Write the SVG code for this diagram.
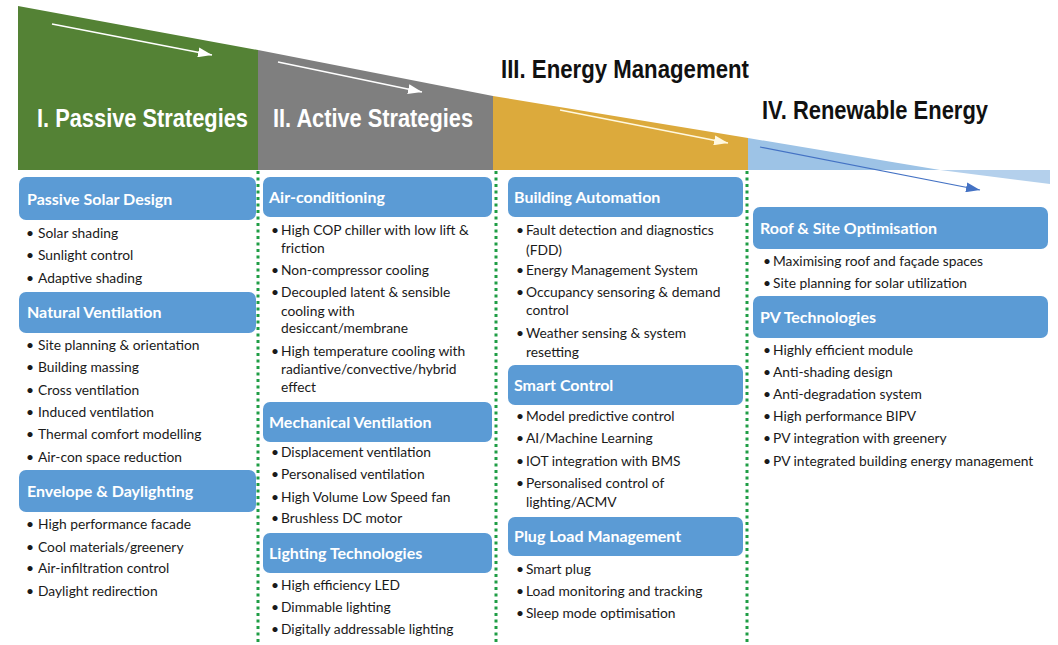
<svg xmlns="http://www.w3.org/2000/svg" width="1058" height="645" viewBox="0 0 1058 645">
<defs>
<style>
.title{font-family:"Liberation Sans",Arial,sans-serif;font-weight:700;font-size:22px}
.box{fill:#5b9bd5}
.bh{font-family:Lato,"Noto Sans",sans-serif;font-weight:700;font-size:16px;fill:#fff}
.bt{font-family:Lato,"Noto Sans",sans-serif;font-size:13.8px;fill:#1a1a1a}
.dot{font-family:Lato,"Noto Sans",sans-serif;font-size:13.8px;fill:#1a1a1a;text-anchor:middle}
.div{stroke:#1f9d45;stroke-width:3;stroke-dasharray:3 3.5;fill:none}
.wa{stroke:#ffffff;stroke-width:1.5;fill:none}
</style>
<marker id="hw" markerUnits="userSpaceOnUse" markerWidth="14" markerHeight="10" refX="14" refY="5" orient="auto"><path d="M0,0 L14,5 L0,10 z" fill="#ffffff"/></marker>
<marker id="hy" markerUnits="userSpaceOnUse" markerWidth="14" markerHeight="10" refX="14" refY="5" orient="auto"><path d="M0,0 L14,5 L0,10 z" fill="#fff8e0"/></marker>
<marker id="hb" markerUnits="userSpaceOnUse" markerWidth="14" markerHeight="10" refX="14" refY="5" orient="auto"><path d="M0,0 L14,5 L0,10 z" fill="#4472c4"/></marker>
</defs>
<rect width="1058" height="645" fill="#ffffff"/>

<g id="header-passive">
<polygon points="18,6 258,50 258,170 18,170" fill="#548235"/>
<text class="title" transform="translate(37,127) scale(1,1.2)" fill="#ffffff" textLength="211" lengthAdjust="spacingAndGlyphs">I. Passive Strategies</text>
</g>
<g id="header-active">
<polygon points="258,50 493,96 493,170 258,170" fill="#7f7f7f"/>
<text class="title" transform="translate(273,127) scale(1,1.2)" fill="#ffffff" textLength="200" lengthAdjust="spacingAndGlyphs">II. Active Strategies</text>
</g>
<g id="header-energy">
<polygon points="493,96 748,138 748,170 493,170" fill="#dcaa3c"/>
<text class="title" transform="translate(501,78) scale(1,1.2)" fill="#111111" textLength="248" lengthAdjust="spacingAndGlyphs">III. Energy Management</text>
</g>
<g id="header-renewable">
<polygon points="748,138 940,170 748,170" fill="#9dc3e6"/>
<polygon points="940,170 1050,170 1050,184" fill="#b4d0ec"/>
<text class="title" transform="translate(762,119) scale(1,1.2)" fill="#111111" textLength="226" lengthAdjust="spacingAndGlyphs">IV. Renewable Energy</text>
</g>

<g id="connectors">
<line class="wa" x1="52" y1="24" x2="212" y2="55" marker-end="url(#hw)"/>
<line class="wa" x1="278" y1="62" x2="422" y2="92" marker-end="url(#hw)"/>
<line x1="560" y1="110" x2="728" y2="143" stroke="#fff8e0" stroke-width="1.5" marker-end="url(#hy)"/>
<line x1="760" y1="147" x2="980" y2="190" stroke="#4472c4" stroke-width="1.2" marker-end="url(#hb)"/>
</g>

<g id="dividers">
<line class="div" x1="258" y1="171" x2="258" y2="645"/>
<line class="div" x1="496" y1="171" x2="496" y2="645"/>
<line class="div" x1="747" y1="171" x2="747" y2="645"/>
</g>

<g id="passive-solar-design">
<rect class="box" x="19" y="177" width="237" height="43" rx="7"/>
<text class="bh" x="27" y="205">Passive Solar Design</text>
<text class="dot" x="30" y="238">•</text><text class="bt" x="38" y="238">Solar shading</text>
<text class="dot" x="30" y="260">•</text><text class="bt" x="38" y="260">Sunlight control</text>
<text class="dot" x="30" y="283">•</text><text class="bt" x="38" y="283">Adaptive shading</text>
</g>
<g id="natural-ventilation">
<rect class="box" x="19" y="292" width="237" height="41" rx="7"/>
<text class="bh" x="27" y="318">Natural Ventilation</text>
<text class="dot" x="30" y="350">•</text><text class="bt" x="38" y="350">Site planning &amp; orientation</text>
<text class="dot" x="30" y="372">•</text><text class="bt" x="38" y="372">Building massing</text>
<text class="dot" x="30" y="395">•</text><text class="bt" x="38" y="395">Cross ventilation</text>
<text class="dot" x="30" y="417">•</text><text class="bt" x="38" y="417">Induced ventilation</text>
<text class="dot" x="30" y="439">•</text><text class="bt" x="38" y="439">Thermal comfort modelling</text>
<text class="dot" x="30" y="462">•</text><text class="bt" x="38" y="462">Air-con space reduction</text>
</g>
<g id="envelope-daylighting">
<rect class="box" x="19" y="470" width="237" height="42" rx="7"/>
<text class="bh" x="27" y="497">Envelope &amp; Daylighting</text>
<text class="dot" x="30" y="529">•</text><text class="bt" x="38" y="529">High performance facade</text>
<text class="dot" x="30" y="552">•</text><text class="bt" x="38" y="552">Cool materials/greenery</text>
<text class="dot" x="30" y="573">•</text><text class="bt" x="38" y="573">Air-infiltration control</text>
<text class="dot" x="30" y="596">•</text><text class="bt" x="38" y="596">Daylight redirection</text>
</g>

<g id="air-conditioning">
<rect class="box" x="263" y="177" width="229" height="40" rx="7"/>
<text class="bh" x="269" y="203">Air-conditioning</text>
<text class="dot" x="275" y="235">•</text><text class="bt" x="281" y="235">High COP chiller with low lift &amp;</text>
<text class="bt" x="281" y="253">friction</text>
<text class="dot" x="275" y="275">•</text><text class="bt" x="281" y="275">Non-compressor cooling</text>
<text class="dot" x="275" y="297">•</text><text class="bt" x="281" y="297">Decoupled latent &amp; sensible</text>
<text class="bt" x="281" y="316">cooling with</text>
<text class="bt" x="281" y="333">desiccant/membrane</text>
<text class="dot" x="275" y="356">•</text><text class="bt" x="281" y="356">High temperature cooling with</text>
<text class="bt" x="281" y="374">radiantive/convective/hybrid</text>
<text class="bt" x="281" y="392">effect</text>
</g>
<g id="mechanical-ventilation">
<rect class="box" x="263" y="402" width="229" height="40" rx="7"/>
<text class="bh" x="269" y="428">Mechanical Ventilation</text>
<text class="dot" x="275" y="457">•</text><text class="bt" x="281" y="457">Displacement ventilation</text>
<text class="dot" x="275" y="479">•</text><text class="bt" x="281" y="479">Personalised ventilation</text>
<text class="dot" x="275" y="502">•</text><text class="bt" x="281" y="502">High Volume Low Speed fan</text>
<text class="dot" x="275" y="523">•</text><text class="bt" x="281" y="523">Brushless DC motor</text>
</g>
<g id="lighting-technologies">
<rect class="box" x="263" y="533" width="229" height="40" rx="7"/>
<text class="bh" x="269" y="559">Lighting Technologies</text>
<text class="dot" x="275" y="590">•</text><text class="bt" x="281" y="590">High efficiency LED</text>
<text class="dot" x="275" y="612">•</text><text class="bt" x="281" y="612">Dimmable lighting</text>
<text class="dot" x="275" y="634">•</text><text class="bt" x="281" y="634">Digitally addressable lighting</text>
</g>

<g id="building-automation">
<rect class="box" x="508" y="177" width="235" height="40" rx="7"/>
<text class="bh" x="514" y="203">Building Automation</text>
<text class="dot" x="520" y="235">•</text><text class="bt" x="526" y="235">Fault detection and diagnostics</text>
<text class="bt" x="526" y="255">(FDD)</text>
<text class="dot" x="520" y="275">•</text><text class="bt" x="526" y="275">Energy Management System</text>
<text class="dot" x="520" y="297">•</text><text class="bt" x="526" y="297">Occupancy sensoring &amp; demand</text>
<text class="bt" x="526" y="315">control</text>
<text class="dot" x="520" y="338">•</text><text class="bt" x="526" y="338">Weather sensing &amp; system</text>
<text class="bt" x="526" y="357">resetting</text>
</g>
<g id="smart-control">
<rect class="box" x="508" y="365" width="235" height="40" rx="7"/>
<text class="bh" x="514" y="391">Smart Control</text>
<text class="dot" x="520" y="421">•</text><text class="bt" x="526" y="421">Model predictive control</text>
<text class="dot" x="520" y="443">•</text><text class="bt" x="526" y="443">AI/Machine Learning</text>
<text class="dot" x="520" y="466">•</text><text class="bt" x="526" y="466">IOT integration with BMS</text>
<text class="dot" x="520" y="488">•</text><text class="bt" x="526" y="488">Personalised control of</text>
<text class="bt" x="526" y="507">lighting/ACMV</text>
</g>
<g id="plug-load-management">
<rect class="box" x="508" y="517" width="235" height="39" rx="7"/>
<text class="bh" x="514" y="542">Plug Load Management</text>
<text class="dot" x="520" y="574">•</text><text class="bt" x="526" y="574">Smart plug</text>
<text class="dot" x="520" y="596">•</text><text class="bt" x="526" y="596">Load monitoring and tracking</text>
<text class="dot" x="520" y="618">•</text><text class="bt" x="526" y="618">Sleep mode optimisation</text>
</g>

<g id="roof-site-optimisation">
<rect class="box" x="753" y="207" width="295" height="42" rx="7"/>
<text class="bh" x="760" y="234">Roof &amp; Site Optimisation</text>
<text class="dot" x="767" y="266">•</text><text class="bt" x="773" y="266">Maximising roof and façade spaces</text>
<text class="dot" x="767" y="288">•</text><text class="bt" x="773" y="288">Site planning for solar utilization</text>
</g>
<g id="pv-technologies">
<rect class="box" x="753" y="296" width="295" height="42" rx="7"/>
<text class="bh" x="760" y="323">PV Technologies</text>
<text class="dot" x="767" y="355">•</text><text class="bt" x="773" y="355">Highly efficient module</text>
<text class="dot" x="767" y="377">•</text><text class="bt" x="773" y="377">Anti-shading design</text>
<text class="dot" x="767" y="399">•</text><text class="bt" x="773" y="399">Anti-degradation system</text>
<text class="dot" x="767" y="421">•</text><text class="bt" x="773" y="421">High performance BIPV</text>
<text class="dot" x="767" y="443">•</text><text class="bt" x="773" y="443">PV integration with greenery</text>
<text class="dot" x="767" y="466">•</text><text class="bt" x="773" y="466">PV integrated building energy management</text>
</g>
</svg>
